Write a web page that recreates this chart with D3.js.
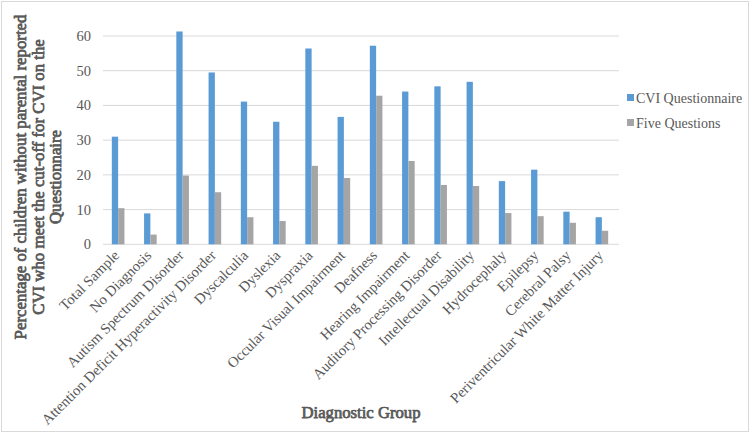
<!DOCTYPE html>
<html><head><meta charset="utf-8">
<script src="https://cdn.jsdelivr.net/npm/d3@7"></script>
<style>body{margin:0;background:#fff}svg{display:block}</style>
</head><body><svg id="c" width="750" height="433"></svg>
<script>
const categories = ["Total Sample","No Diagnosis","Autism Spectrum Disorder","Attention Deficit Hyperactivity Disorder","Dyscalculia","Dyslexia","Dyspraxia","Occular Visual Impairment","Deafness","Hearing Impairment","Auditory Processing Disorder","Intellectual Disability","Hydrocephaly","Epilepsy","Cerebral Palsy","Periventricular White Matter Injury"];
const cviQuestionnaire = [31.0,8.9,61.3,49.5,41.1,35.3,56.4,36.7,57.2,44.0,45.5,46.8,18.2,21.5,9.4,7.8];
const fiveQuestions = [10.4,2.8,19.8,15.0,7.8,6.7,22.6,19.1,42.8,24.0,17.1,16.8,9.0,8.1,6.2,3.9];
const seriesNames = ["CVI Questionnaire","Five Questions"];
const yTicks = [0,10,20,30,40,50,60];
const colors = ["#5b9bd5","#a5a5a5"];
const FONT = "'Liberation Serif', serif";

const svg = d3.select("#c");
svg.append("rect").attr("x",1.5).attr("y",1.5).attr("width",747).attr("height",430)
  .attr("fill","#fff").attr("stroke","#d9d9d9").attr("stroke-width",1);

const L=103, R=619, T=36, B=244.3;
const x = d3.scaleBand().domain(categories).range([L,R]);
const y = d3.scaleLinear().domain([0,60]).range([B,T]);

const g = svg.append("g");
g.selectAll("line.grid").data(yTicks).join("line")
  .attr("x1",L).attr("x2",R).attr("y1",d=>y(d)).attr("y2",d=>y(d))
  .attr("stroke","#d9d9d9").attr("stroke-width",1);

g.selectAll("text.ytick").data(yTicks).join("text")
  .attr("x",91).attr("y",d=>y(d)+5).attr("text-anchor","end")
  .attr("font-family",FONT).attr("font-size",14.5).attr("fill","#595959").text(d=>d);

const bw = 6.3;
const data = categories.map((c,i)=>({c,v:[cviQuestionnaire[i],fiveQuestions[i]]}));
data.forEach(d=>{
  const cx = x(d.c)+x.bandwidth()/2 - 1;
  d.v.forEach((v,j)=>{
    g.append("rect").attr("x",cx - bw + j*bw).attr("y",y(v)).attr("width",bw).attr("height",y(0)-y(v)).attr("fill",colors[j]);
  });
});

g.selectAll("text.xl").data(categories).join("text")
  .attr("transform",d=>`translate(${x(d)+x.bandwidth()/2+1},${B+12}) rotate(-45)`)
  .attr("text-anchor","end").attr("font-family",FONT).attr("font-size",14.7).attr("fill","#595959").text(d=>d);

function boldText(sel){
  return sel.attr("font-family",FONT).attr("font-weight",400).attr("fill","#595959")
    .attr("stroke","#595959").attr("stroke-width",0.75).attr("stroke-linejoin","round");
}
["Percentage of children without parental reported","CVI who meet the cut-off for CVI on the","Questionnaire"].forEach((t,i)=>{
  boldText(svg.append("text").attr("transform",`translate(${26+i*17.5},177) rotate(-90)`)
   .attr("text-anchor","middle").attr("font-size",16.8).text(t));
});
boldText(svg.append("text").attr("x",(L+R)/2).attr("y",418).attr("text-anchor","middle")
  .attr("font-size",16.7).text("Diagnostic Group"));

seriesNames.forEach((s,i)=>{
  const yy = 98 + i*25;
  svg.append("rect").attr("x",627).attr("y",yy-4).attr("width",7).attr("height",7).attr("fill",colors[i]);
  svg.append("text").attr("x",636).attr("y",yy+4.5).attr("font-family",FONT).attr("font-size",14).attr("fill","#595959").text(s);
});
</script></body></html>
